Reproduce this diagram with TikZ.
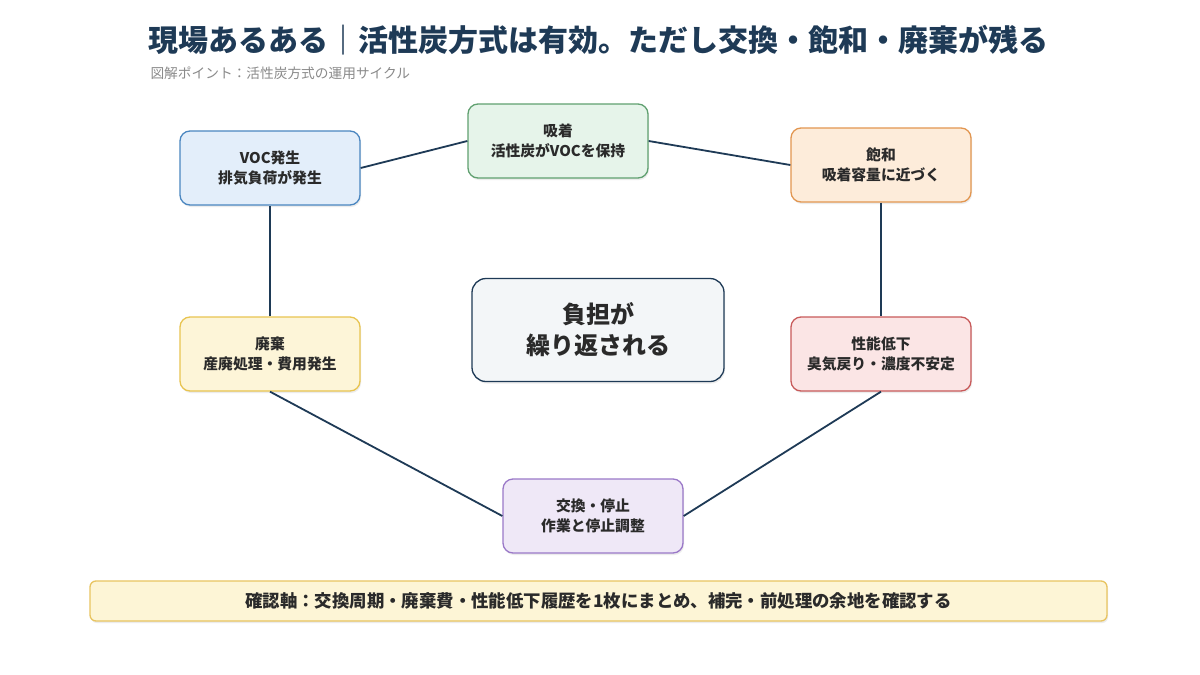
\documentclass[tikz,border=0pt]{standalone}
\usepackage{fontspec}
\setmainfont{Noto Sans CJK JP}
\usetikzlibrary{shadows}
\definecolor{navy}{HTML}{1E3A56}
\definecolor{txt}{HTML}{2A2A2A}
\definecolor{subg}{HTML}{8A8A8A}
\tikzset{
  box/.style={draw, line width=1.3pt, rounded corners=10pt, minimum width=180pt, minimum height=74pt,
    align=center, text=txt, font=\fontsize{14.8}{20}\selectfont\bfseries,
    drop shadow={shadow xshift=1pt, shadow yshift=-2pt, opacity=0.15}},
  link/.style={draw=navy, line width=1.8pt},
}
\begin{document}
\begin{tikzpicture}[x=1pt,y=-1pt]
\useasboundingbox[fill=white] (0,0) rectangle (1200,675);
\node[anchor=west, text=navy, font=\fontsize{30}{32}\selectfont\bfseries] (title) at (145,40) {現場あるある｜活性炭方式は有効。ただし交換・飽和・廃棄が残る};
\node[anchor=west, text=subg, font=\fontsize{13.7}{16}\selectfont] (sub) at (147,73) {図解ポイント：活性炭方式の運用サイクル};

\node[box, draw={rgb,255:red,74;green,134;blue,192}, fill={rgb,255:red,227;green,238;blue,250}] (voc) at (270,168) {VOC発生\\排気負荷が発生};
\node[box, draw={rgb,255:red,96;green,160;blue,112}, fill={rgb,255:red,230;green,244;blue,234}] (ads) at (558,141) {吸着\\活性炭がVOCを保持};
\node[box, draw={rgb,255:red,226;green,150;blue,80}, fill={rgb,255:red,253;green,236;blue,218}] (sat) at (881,165) {飽和\\吸着容量に近づく};
\node[box, draw={rgb,255:red,200;green,90;blue,90}, fill={rgb,255:red,251;green,229;blue,229}] (perf) at (881,354) {性能低下\\臭気戻り・濃度不安定};
\node[box, draw={rgb,255:red,154;green,120;blue,200}, fill={rgb,255:red,239;green,232;blue,247}] (exch) at (593,516) {交換・停止\\作業と停止調整};
\node[box, draw={rgb,255:red,232;green,196;blue,80}, fill={rgb,255:red,253;green,245;blue,216}] (disp) at (270,354) {廃棄\\産廃処理・費用発生};

\node[box, draw=navy, fill={rgb,255:red,243;green,246;blue,248}, minimum width=252pt, minimum height=103pt, rounded corners=14pt,
  font=\fontsize{24}{31}\selectfont\bfseries] (center) at (598,330) {負担が\\繰り返される};

\draw[link] (voc.east) -- (ads.west);
\draw[link] (ads.east) -- (sat.west);
\draw[link] (sat.south) -- (perf.north);
\draw[link] (perf.south) -- (exch.east);
\draw[link] (exch.west) -- (disp.south);
\draw[link] (disp.north) -- (voc.south);

\node[box, draw={rgb,255:red,232;green,196;blue,96}, fill={rgb,255:red,253;green,245;blue,214}, minimum width=1017pt, minimum height=40pt, rounded corners=6pt,
  font=\fontsize{17.4}{18}\selectfont\bfseries] (bar) at (598.5,601) {確認軸：交換周期・廃棄費・性能低下履歴を1枚にまとめ、補完・前処理の余地を確認する};
\end{tikzpicture}
\end{document}
